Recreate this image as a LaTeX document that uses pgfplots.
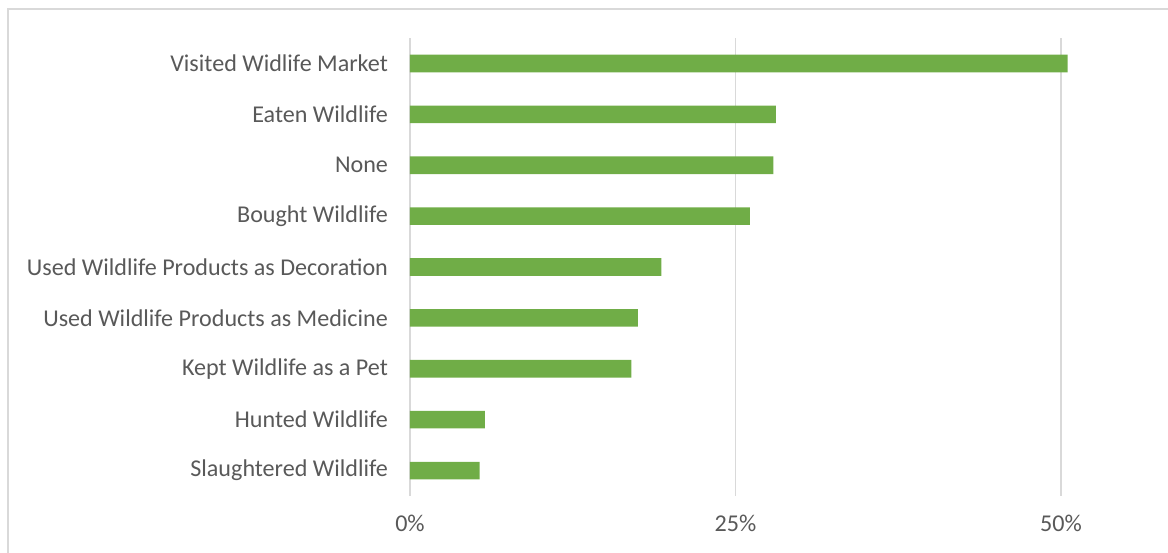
\documentclass[border=0pt]{standalone}
\usepackage{pgfplots}
\pgfplotsset{compat=1.18}
\usepackage{fontspec}
\setmainfont{Carlito}
\definecolor{bargreen}{HTML}{70AD47}
\definecolor{txt}{HTML}{595959}
\definecolor{gridc}{HTML}{D9D9D9}
\begin{document}
\begin{tikzpicture}[x=1pt,y=1pt]
\useasboundingbox (-205,-28) rectangle (379,248);
\draw[gridc, line width=0.7pt] (-201,-30) -- (-201,243.5) -- (381,243.5);
\begin{axis}[
  at={(0,0)}, anchor=south west, scale only axis,
  width=377.6pt, height=229pt,
  xbar, bar width=8.8pt,
  xmin=0, xmax=58, ymin=-0.5, ymax=8.5, y dir=reverse,
  ytick={0,...,8},
  yticklabels={Visited Widlife Market,Eaten Wildlife,None,Bought Wildlife,Used Wildlife Products as Decoration,Used Wildlife Products as Medicine,Kept Wildlife as a Pet,Hunted Wildlife,Slaughtered Wildlife},
  xtick={0,25,50},
  xticklabel={\pgfmathprintnumber{\tick}\%},
  /pgf/number format/assume math mode=true,
  axis line style={draw=none},
  major tick length=0pt,
  xmajorgrids, grid style={gridc, line width=0.8pt},
  tick label style={font=\fontsize{12.05}{14}\selectfont, text=txt},
  xticklabel style={yshift=-6pt},
  yticklabel style={xshift=-7.5pt},
]
\addplot[fill=bargreen, draw=none] coordinates {
(50.5,0) (28.1,1) (27.9,2) (26.1,3) (19.3,4) (17.5,5) (17.0,6) (5.75,7) (5.35,8)};
\end{axis}
\end{tikzpicture}
\end{document}
